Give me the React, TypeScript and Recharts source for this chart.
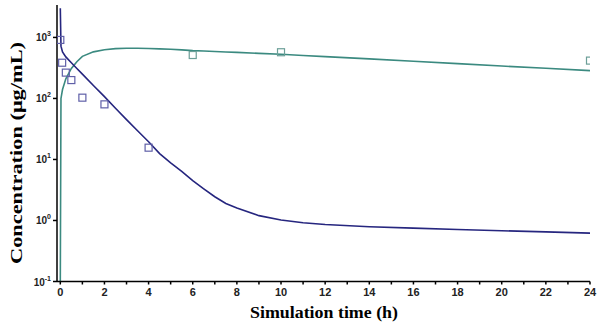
import React from 'react'
import { ComposedChart, Line, Scatter, XAxis, YAxis, Label } from 'recharts'

// simulation grid (h)
const simTime = [
  0, 0.03, 0.1, 0.25, 0.5, 0.75, 1, 1.5, 2, 2.5, 3, 3.5, 4, 4.5, 5, 5.5, 6, 6.5, 7, 7.5, 8, 9, 10, 11, 12, 14,
  16, 18, 20, 22, 24,
]
// plasma (navy) curve, µg/mL
const plasmaSim = [
  3000, 720, 580, 480, 385, 310, 250, 163, 107, 69, 45, 29.5, 19.5, 12.5, 8.8, 6.4, 4.5, 3.3, 2.45, 1.9, 1.6,
  1.2, 1.02, 0.92, 0.86, 0.79, 0.75, 0.71, 0.68, 0.65, 0.62,
]
// tissue (teal) curve, µg/mL
const tissueSim = [
  0.1, 100, 140, 210, 310, 400, 490, 580, 630, 655, 665, 665, 660, 650, 640, 625, 608, 598, 588, 578, 568,
  548, 530, 507, 485, 445, 406, 372, 340, 312, 286,
]

// observed points
const plasmaObsTime = [0, 0.083, 0.25, 0.5, 1, 2, 4]
const plasmaObs = [910, 385, 265, 200, 103, 80, 15.6]
const tissueObsTime = [6, 10, 24]
const tissueObs = [515, 572, 417]

const xTicks = Array.from({ length: 25 }, (_, i) => i)
const yTicks = [0.1, 1, 10, 100, 1000]

const lineData = simTime.map((t, i) => ({ t, plasma: plasmaSim[i], tissue: tissueSim[i] }))
const plasmaPts = plasmaObsTime.map((t, i) => ({ t, c: plasmaObs[i] }))
const tissuePts = tissueObsTime.map((t, i) => ({ t, c: tissueObs[i] }))

const NAVY = '#26267f'
const TEAL = '#3b8a80'
const sans = '"Liberation Sans", Arial, sans-serif'
const serif = '"Liberation Serif", "Times New Roman", serif'

const square = (color: string) => (props: any) => {
  const { cx, cy } = props
  if (cx == null || cy == null) return <g />
  return <rect x={cx - 3.5} y={cy - 3.5} width={7} height={7} fill="none" stroke={color} strokeWidth={1.2} />
}

const YTick = ({ x, y, payload }: any) => {
  const exp = Math.round(Math.log10(payload.value))
  return (
    <text x={x} y={y} dy={4} textAnchor="end" style={{ fontFamily: sans, fontWeight: 'bold', fontSize: 10 }} fill="#222">
      <tspan>10</tspan>
      <tspan dy={-5} style={{ fontSize: 7 }}>
        {exp}
      </tspan>
    </text>
  )
}

const XTick = ({ x, y, payload }: any) => {
  if (payload.value % 2 !== 0) return <g />
  return (
    <text x={x} y={y} dy={9} textAnchor="middle" style={{ fontFamily: sans, fontWeight: 'bold', fontSize: 11 }} fill="#222">
      {payload.value}
    </text>
  )
}

const YTitle = () => (
  <text
    x={16}
    y={153}
    transform="rotate(-90 16 153)"
    textAnchor="middle"
    dominantBaseline="central"
    style={{ fontFamily: serif, fontWeight: 'bold', fontSize: 16 }}
    textLength={222}
    lengthAdjust="spacingAndGlyphs"
    fill="#000"
  >
    Concentration (μg/mL)
  </text>
)

const XTitle = () => (
  <text
    x={324}
    y={318}
    textAnchor="middle"
    style={{ fontFamily: serif, fontWeight: 'bold', fontSize: 16 }}
    textLength={148}
    lengthAdjust="spacingAndGlyphs"
    fill="#000"
  >
    Simulation time (h)
  </text>
)

export default function App() {
  return (
    <div style={{ position: 'absolute', left: 0, top: 0 }}>
      <ComposedChart width={605} height={330} data={lineData} margin={{ top: 5, right: 15, bottom: 0, left: 0 }}>
        <XAxis
          dataKey="t"
          type="number"
          domain={[-0.15, 24]}
          ticks={xTicks}
          interval={0}
          tick={<XTick />}
          tickSize={3}
          height={48.5}
          stroke="#000"
          strokeWidth={1.5}
          allowDataOverflow
        >
          <Label content={<XTitle />} />
        </XAxis>
        <YAxis
          type="number"
          scale="log"
          domain={[0.1, 3400]}
          ticks={yTicks}
          interval={0}
          tick={<YTick />}
          tickSize={4}
          width={57}
          stroke="#000"
          strokeWidth={1.5}
          allowDataOverflow
        >
          <Label content={<YTitle />} />
        </YAxis>
        <Line
          dataKey="tissue"
          type="linear"
          stroke={TEAL}
          strokeWidth={1.6}
          dot={false}
          isAnimationActive={false}
        />
        <Line
          dataKey="plasma"
          type="linear"
          stroke={NAVY}
          strokeWidth={1.6}
          dot={false}
          isAnimationActive={false}
        />
        <Scatter data={plasmaPts} dataKey="c" shape={square('#6060a8')} isAnimationActive={false} />
        <Scatter data={tissuePts} dataKey="c" shape={square('#6c9f98')} isAnimationActive={false} />
      </ComposedChart>
    </div>
  )
}
